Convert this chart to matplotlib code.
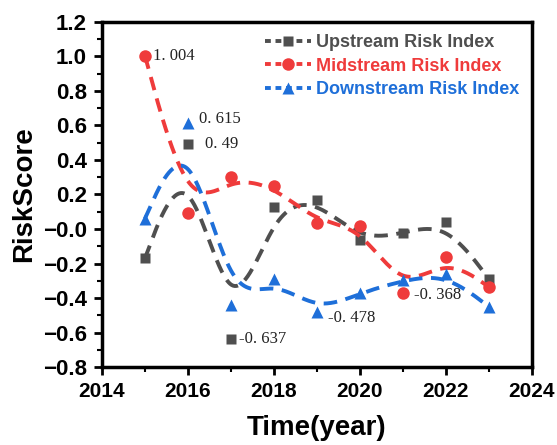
import matplotlib
matplotlib.use("Agg")
import matplotlib.pyplot as plt
import numpy as np

# data
years = [2015, 2016, 2017, 2018, 2019, 2020, 2021, 2022, 2023]
upstream = [-0.17, 0.49, -0.637, 0.13, 0.17, -0.065, -0.025, 0.04, -0.29]
midstream = [1.004, 0.09, 0.30, 0.25, 0.035, 0.02, -0.368, -0.163, -0.336]
downstream = [0.06, 0.615, -0.442, -0.288, -0.478, -0.371, -0.298, -0.259, -0.451]

notes = [  # (year, value, text, dx pt, dy pt)
    (2015, 1.004, "1. 004", 2, 0),
    (2016, 0.615, "0. 615", 4, 3),
    (2016, 0.49, "0. 49", 8, 0),
    (2017, -0.637, "-0. 637", 2, 0),
    (2019, -0.478, "-0. 478", 4, -5),
    (2021, -0.368, "-0. 368", 4, -2),
]

plt.rcParams.update({
    "font.family": ["Liberation Sans", "DejaVu Sans"],
    "font.weight": "bold",
})


def bspline(x, y, n=60):
    """Uniform cubic B-spline, data points as control points, ends tripled."""
    P = np.column_stack([x, y]).astype(float)
    Q = np.vstack([P[:1], P[:1], P, P[-1:], P[-1:]])
    u = np.linspace(0, 1, n)
    b0 = (1 - u) ** 3 / 6
    b1 = (3 * u**3 - 6 * u**2 + 4) / 6
    b2 = (-3 * u**3 + 3 * u**2 + 3 * u + 1) / 6
    b3 = u**3 / 6
    segs = []
    for i in range(len(Q) - 3):
        seg = (np.outer(b0, Q[i]) + np.outer(b1, Q[i + 1])
               + np.outer(b2, Q[i + 2]) + np.outer(b3, Q[i + 3]))
        segs.append(seg if i == 0 else seg[1:])
    C = np.vstack(segs)
    return C[:, 0], C[:, 1]


fig = plt.figure(figsize=(5.57, 4.45), dpi=100)
ax = fig.add_axes([0.183, 0.175, 0.772, 0.776])

series = [
    ("Upstream Risk Index", upstream, "#4f4f4f", "s", 7),
    ("Midstream Risk Index", midstream, "#ef3b3b", "o", 9),
    ("Downstream Risk Index", downstream, "#1e6fd9", "^", 9),
]

handles = []
for label, vals, color, marker, ms in series:
    sx, sy = bspline(years, vals)
    ax.plot(sx, sy, color=color, lw=2.8, ls=(0, (3.5, 2.2)))
    ax.plot(years, vals, ls="none", marker=marker, ms=ms, color=color, mec="none")
    h, = ax.plot([], [], color=color, lw=2.8, ls=(0, (1.5, 1.2)), marker=marker,
                 ms=ms, mec="none", label=label)
    handles.append(h)

for x, y, txt, dx, dy in notes:
    ax.annotate(txt, (x, y), xytext=(dx + 4, dy), textcoords="offset points",
                ha="left", va="center", fontsize=12, fontweight="normal",
                family="Liberation Serif", color="#222222")

yt = np.arange(-0.8, 1.21, 0.2)
ax.set_xlim(2014, 2024)
ax.set_ylim(-0.8, 1.2)
ax.set_xticks(np.arange(2014, 2025, 2))
ax.set_yticks(yt)
ax.set_yticklabels([f"{v:.1f}".replace("-", "\u2212") for v in yt])
ax.set_xticks(np.arange(2015, 2024, 2), minor=True)
ax.set_yticks(np.arange(-0.7, 1.2, 0.2), minor=True)
ax.tick_params(which="major", direction="out", length=6, width=2, labelsize=15, pad=5)
ax.tick_params(axis="y", which="major", labelsize=16)
ax.tick_params(which="minor", direction="out", length=3.5, width=1.5)
for lab in ax.get_xticklabels() + ax.get_yticklabels():
    lab.set_fontweight("bold")
for sp in ax.spines.values():
    sp.set_linewidth(2.5)

ax.set_xlabel("Time(year)", fontsize=20, fontweight="bold", labelpad=10)
ax.set_ylabel("RiskScore", fontsize=20, fontweight="bold", labelpad=4)

leg = ax.legend(handles=handles, loc="upper right", bbox_to_anchor=(1.0, 1.0),
                frameon=False, handlelength=2.5, handletextpad=0.3,
                labelspacing=0.35, borderaxespad=0.3, labelcolor="linecolor",
                prop={"weight": "bold", "size": 13})

fig.savefig("out.png", dpi=100, facecolor="white")
